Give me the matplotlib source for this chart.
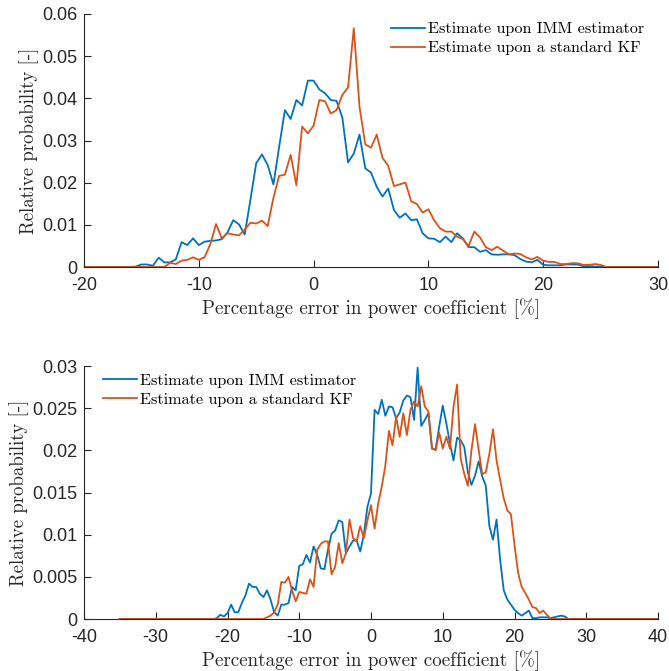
import numpy as np
import matplotlib
matplotlib.use("Agg")
import matplotlib.pyplot as plt

# bin centres (0.5 % wide bins)
x_top = np.arange(-20, 30.5, 0.5)
x_bot = np.arange(-35, 40.5, 0.5)

# top panel
imm_top = [0] * 9 + [
    0.0001, 0.0006, 0.0006, 0.0003, 0.0022, 0.0011, 0.0011, 0.0018, 0.0059, 0.0052,
    0.0068, 0.0052, 0.0060, 0.0062, 0.0063, 0.0066, 0.0082, 0.0111, 0.0101, 0.0077,
    0.0160, 0.0246, 0.0267, 0.0242, 0.0196, 0.0285, 0.0372, 0.0351, 0.0396, 0.0383,
    0.0442, 0.0442, 0.0421, 0.0412, 0.0396, 0.0394, 0.0355, 0.0248, 0.0269, 0.0314,
    0.0234, 0.0224, 0.0190, 0.0167, 0.0186, 0.0135, 0.0117, 0.0127, 0.0111, 0.0113,
    0.0080, 0.0068, 0.0067, 0.0059, 0.0072, 0.0059, 0.0080, 0.0068, 0.0047, 0.0047,
    0.0036, 0.0040, 0.0030, 0.0029, 0.0030, 0.0030, 0.0028, 0.0019, 0.0013, 0.0011,
    0.0017, 0.0005, 0.0004, 0.0004, 0.0004, 0.0006, 0.0006, 0.0006, 0.0002, 0.0002,
    0.0001, 0.0001] + [0] * 10
kf_top = [0] * 15 + [
    0.0010, 0.0007, 0.0015, 0.0017, 0.0023, 0.0017, 0.0023, 0.0054, 0.0102, 0.0068,
    0.0080, 0.0077, 0.0075, 0.0089, 0.0105, 0.0103, 0.0110, 0.0097, 0.0164, 0.0216,
    0.0219, 0.0266, 0.0194, 0.0333, 0.0317, 0.0335, 0.0396, 0.0393, 0.0364, 0.0372,
    0.0408, 0.0426, 0.0566, 0.0380, 0.0291, 0.0283, 0.0314, 0.0259, 0.0240, 0.0192,
    0.0196, 0.0200, 0.0156, 0.0149, 0.0129, 0.0137, 0.0111, 0.0092, 0.0084, 0.0084,
    0.0072, 0.0066, 0.0050, 0.0084, 0.0070, 0.0047, 0.0040, 0.0048, 0.0039, 0.0030,
    0.0032, 0.0031, 0.0023, 0.0018, 0.0024, 0.0015, 0.0012, 0.0012, 0.0007, 0.0007,
    0.0009, 0.0009, 0.0005, 0.0005, 0.0007, 0.0005] + [0] * 10

# bottom panel
imm_bot = [0] * 27 + [
    0.0001, 0.0005, 0.0003, 0.0007, 0.0017, 0.0008, 0.0008, 0.0019, 0.0028, 0.0042,
    0.0038, 0.0038, 0.0030, 0.0026, 0.0034, 0.0023, 0.0008, 0.0004, 0.0017, 0.0017,
    0.0019, 0.0038, 0.0034, 0.0063, 0.0065, 0.0076, 0.0067, 0.0086, 0.0076, 0.0060,
    0.0059, 0.0082, 0.0101, 0.0105, 0.0117, 0.0115, 0.0078, 0.0086, 0.0093, 0.0093,
    0.0080, 0.0100, 0.0133, 0.0149, 0.0248, 0.0243, 0.0260, 0.0241, 0.0252, 0.0251,
    0.0238, 0.0245, 0.0259, 0.0265, 0.0263, 0.0236, 0.0298, 0.0229, 0.0236, 0.0244,
    0.0202, 0.0201, 0.0228, 0.0253, 0.0232, 0.0208, 0.0188, 0.0215, 0.0212, 0.0204,
    0.0174, 0.0159, 0.0170, 0.0187, 0.0169, 0.0158, 0.0110, 0.0094, 0.0118, 0.0070,
    0.0034, 0.0023, 0.0017, 0.0011, 0.0007, 0.0004, 0.0007, 0.0010, 0.0001, 0.0001,
    0.0002, 0.0002, 0.0002, 0.0001, 0.0002, 0.0003, 0.0004, 0.0003, 0.0] + [0] * 25
kf_bot = [0] * 41 + [
    0.0002, 0.0004, 0.0008, 0.0017, 0.0044, 0.0043, 0.0050, 0.0034, 0.0021, 0.0032,
    0.0031, 0.0030, 0.0047, 0.0038, 0.0082, 0.0089, 0.0092, 0.0092, 0.0053, 0.0062,
    0.0090, 0.0066, 0.0078, 0.0118, 0.0096, 0.0092, 0.0110, 0.0096, 0.0117, 0.0135,
    0.0107, 0.0137, 0.0157, 0.0182, 0.0223, 0.0206, 0.0240, 0.0216, 0.0244, 0.0218,
    0.0248, 0.0258, 0.0252, 0.0276, 0.0252, 0.0246, 0.0203, 0.0200, 0.0221, 0.0202,
    0.0216, 0.0202, 0.0252, 0.0278, 0.0190, 0.0172, 0.0158, 0.0200, 0.0231, 0.0201,
    0.0172, 0.0174, 0.0196, 0.0225, 0.0188, 0.0165, 0.0143, 0.0129, 0.0124, 0.0088,
    0.0055, 0.0038, 0.0031, 0.0023, 0.0014, 0.0013, 0.0007, 0.0010, 0.0005, 0.0001] + [0] * 30

labels = ["Estimate upon IMM estimator", "Estimate upon a standard KF"]
xticks_top = [-20, -10, 0, 10, 20, 30]
yticks_top = [0, 0.01, 0.02, 0.03, 0.04, 0.05, 0.06]
ytlabels_top = ["0", "0.01", "0.02", "0.03", "0.04", "0.05", "0.06"]
xticks_bot = [-40, -30, -20, -10, 0, 10, 20, 30, 40]
yticks_bot = [0, 0.005, 0.01, 0.015, 0.02, 0.025, 0.03]
ytlabels_bot = ["0", "0.005", "0.01", "0.015", "0.02", "0.025", "0.03"]

blue = "#0072BD"
orange = "#D95319"
axcol = "#262626"
serif = "cmr10"
tickfont = "Liberation Sans"

fig = plt.figure(figsize=(6.69, 6.71), dpi=100)
ax1 = fig.add_axes([84 / 669, 1 - 267 / 671, 574 / 669, 253 / 671])
ax2 = fig.add_axes([84 / 669, 1 - 619 / 671, 574 / 669, 253 / 671])


def style(ax, xt, yt, ytl, xlim, ylim):
    ax.set_xlim(*xlim)
    ax.set_ylim(*ylim)
    ax.set_xticks(xt)
    ax.set_xticklabels([str(v) for v in xt])
    ax.set_yticks(yt)
    ax.set_yticklabels(ytl)
    for s in ["top", "right"]:
        ax.spines[s].set_visible(False)
    for s in ["left", "bottom"]:
        ax.spines[s].set_color(axcol)
        ax.spines[s].set_linewidth(0.8)
    ax.tick_params(direction="in", length=5, width=0.8, color=axcol,
                   labelsize=13, labelcolor=axcol)
    ax.tick_params(axis="x", pad=7)
    ax.tick_params(axis="y", pad=5)
    for t in ax.get_xticklabels() + ax.get_yticklabels():
        t.set_fontfamily(tickfont)
    ax.set_xlabel("Percentage error in power coefficient [%]", fontfamily=serif,
                  fontsize=13.7, color=axcol, labelpad=3)
    ax.set_ylabel("Relative probability [-]", fontfamily=serif,
                  fontsize=13.5, color=axcol, labelpad=2)


ax1.plot(x_top, imm_top, color=blue, lw=1.3, label=labels[0])
ax1.plot(x_top, kf_top, color=orange, lw=1.3, label=labels[1])
style(ax1, xticks_top, yticks_top, ytlabels_top, (-20, 30), (0, 0.06))
ax1.legend(loc="upper left", bbox_to_anchor=(0.535, 0.968), frameon=False,
           prop={"family": serif, "size": 11.7}, handlelength=2.1,
           handletextpad=0.2, labelspacing=0.28, borderpad=0, borderaxespad=0)

ax2.plot(x_bot, imm_bot, color=blue, lw=1.3, label=labels[0])
ax2.plot(x_bot, kf_bot, color=orange, lw=1.3, label=labels[1])
style(ax2, xticks_bot, yticks_bot, ytlabels_bot, (-40, 40), (0, 0.03))
ax2.legend(loc="upper left", bbox_to_anchor=(0.033, 0.971), frameon=False,
           prop={"family": serif, "size": 11.7}, handlelength=2.1,
           handletextpad=0.2, labelspacing=0.28, borderpad=0, borderaxespad=0)

fig.savefig("out.png", dpi=100)
